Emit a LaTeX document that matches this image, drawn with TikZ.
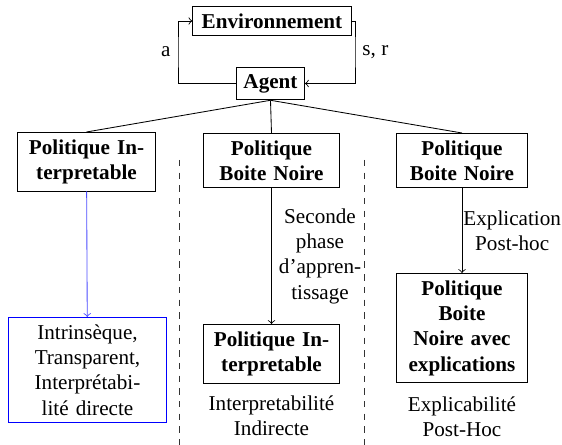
\documentclass[tikz,border=0pt]{standalone}
\usepackage{fontspec}
\setmainfont{Liberation Serif}
\usetikzlibrary{arrows}
\tikzstyle{boite} = [rectangle, draw, align=center, font=\bfseries]
\tikzstyle{politique} = [rectangle, draw, align=center, text width=58pt, font=\bfseries]
\tikzstyle{directe} = [rectangle, draw=blue, align=center, text width=68pt]
\tikzstyle{legende} = [align=center]
\tikzstyle{arrow} = [->]
\tikzstyle{separation} = [dashed, black!80]

\begin{document}
\begin{tikzpicture}[x=0.473pt, y=-0.473pt]
            \useasboundingbox (0,0) rectangle (562,445);
            \node [boite, minimum width=75pt] at (272,21) (env) {Environnement};
            \node [boite] at (270.5,83.5) (agent) {Agent};
            \coordinate (loopl) at (178,52);
            \coordinate (loopr) at (355,52);

            \node [politique, anchor=north, text width=59pt] at (86.5,132) (pi1) {Politique In-\\terpretable};
            \node [politique, anchor=north] at (271.5,133) (pbn1) {Politique\\Boite Noire};
            \node [politique, anchor=north, text width=55pt] at (462,133) (pbn2) {Politique\\Boite Noire};

            \node [directe, anchor=north] at (87.5,317) (directe) {Intrinsèque,\\Transparent,\\Interprétabi-\\lité directe};
            \node [politique, anchor=north] at (271.5,324) (pi2) {Politique In-\\terpretable};
            \node [politique, anchor=north, text width=55pt] at (462,273) (pbnx) {Politique\\Boite\\Noire avec\\explications};

            \node [legende] at (271.5,416) (indirecte) {Interpretabilité\\Indirecte};
            \node [legende] at (462,417) (posthoc) {Explicabilité\\Post-Hoc};

            \coordinate (sepa1) at (179,160);
            \coordinate (sepa2) at (179,445);
            \coordinate (sepb1) at (364,160);
            \coordinate (sepb2) at (364,445);

            \draw [arrow] (agent.west) -| (loopl) |- node[anchor=east, pos=0] {a} (env.west);
            \draw [arrow] (env.east) -| (loopr) |- node[anchor=west, pos=0] {s, r} (agent.east);
            \draw (agent.south) -- (pi1.north);
            \draw (agent.south) -- (pbn1.north);
            \draw (agent.south) -- (pbn2.north);
            \draw [arrow, blue!70] (pi1) -- (directe);
            \draw [arrow] (pbn1) -- node[anchor=west, align=center] {Seconde\\phase\\d'appren-\\tissage} (pi2);
            \draw [arrow] (pbn2) -- node[anchor=west, align=center, inner sep=0.5pt] {Explication\\Post-hoc} (pbnx);
            \draw [separation] (sepa1) -- (sepa2);
            \draw [separation] (sepb1) -- (sepb2);
            \end{tikzpicture}
\end{document}
